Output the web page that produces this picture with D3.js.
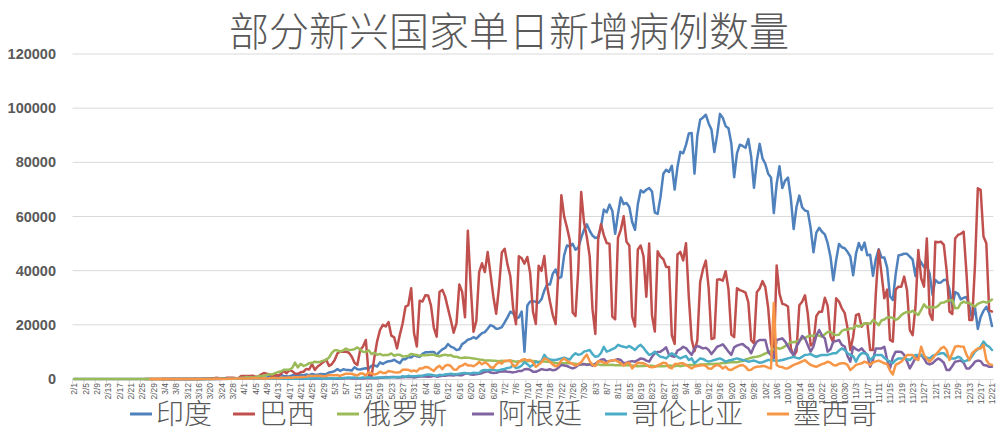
<!DOCTYPE html>
<html><head><meta charset="utf-8">
<script src="https://cdn.jsdelivr.net/npm/d3@7"></script>
<style>body{margin:0;background:#fff;}svg{display:block;}</style>
</head><body>
<svg id="chart" width="1000" height="442"></svg>
<script>
const title = "部分新兴国家单日新增病例数量";
const seriesNames = ["印度","巴西","俄罗斯","阿根廷","哥伦比亚","墨西哥"];
const seriesColors = ["#4F81BD","#C0504D","#9BBB59","#8064A2","#4BACC6","#F79646"];
const yTicks = [0,20000,40000,60000,80000,100000,120000];
const N = null;
function nulls(k){return Array(k).fill(null);}
function zeros(k){return Array(k).fill(0);}

// India
const india = [].concat(
  [0,1,1].concat(zeros(26)),
  [0,0,2,1,22,2,1,3,5,9,15,8,10,10,25,20,15,28,47,63,77,83,90,105,86,88,149,163,126,226,159],
  [601,545,478,589,569,704,508,485,591,896,768,918,905,1463,1118,1061,922,1371,1580,1239,1537,1292,1667,1408,1835,1607,1561,1873,1738,1801],
  [2396,2564,2952,3656,2971,3587,3364,3344,3113,4353,3607,3524,3763,3942,3787,4864,5050,4628,6147,5553,6198,6568,6629,7111,6414,5843,7293,7300,8105,7964,8800],
  [8392,8171,9304,9851,9887,9971,9983,8900,9985,10956,11458,12881,11929,11502,10667,10974,12881,13586,14516,14821,15413,14933,15968,16922,17296,18552,19906,19459,18522,18653],
  [19148,20903,22771,24850,24248,22252,22752,24879,10100,27114,28637,28701,28498,28178,29429,32695,34956,34884,38902,40425,37148,37724,45720,49310,48916,49931,47703,48513,52123,55078,57118],
  [54735,52972,52050,52509,56282,62538,61537,64399,62064,53601,60963,66999,64553,65002,63490,57981,55079,64531,69652,68898,69878,70488,69239,61408,60975,67151,75760,77266,76472,78761,69921],
  [78357,83883,83341,86432,90632,90802,75809,89706,95735,96551,97570,94372,92071,83809,90123,97894,96424,93337,92605,86961,74493,83347,86508,86052,85362,88600,82170,70589,80472,86821],
  [81484,79476,75829,74442,61267,72049,78524,70496,73272,74383,66732,55342,63509,67708,63371,62212,61871,55722,46790,54044,55839,54366,53370,50129,45148,36470,43893,49881,48648,48268,46964],
  [45231,38310,46253,50210,47638,50357,45674,45903,38074,44281,47905,44879,44878,41100,30548,29163,38617,45576,45882,46232,46232,45209,44059,37975,44376,43082,41322,41810,38772,31118],
  [36604,35551,35668,36594,36652,32981,26567,32080,31521,29398,30006,30254,27071,22065,26382,18500,22890,25152,26624,24337,19556]
);
// Brazil
const brazil = [].concat(
  nulls(25).concat([1,0,0,1]),
  [0,0,0,1,4,6,6,5,5,0,9,25,21,23,79,34,57,137,193,283,224,418,345,310,232,482,502,487,352,323,1138],
  [1119,1074,1146,1222,852,926,1661,2210,1930,1781,1089,1442,1261,1832,3058,2105,3257,2917,2055,1927,2498,2678,3735,3503,5514,3379,4613,5385,6276,7218],
  [4800,5500,7000,9500,10100,10100,10100,9700,8300,6000,5200,10700,12000,14400,1500,900,7900,14000,18100,20000,19400,21000,16000,15400,11300,16300,20600,26700,27300,33500,17000],
  [12000,28936,28633,30925,30830,27075,18912,15654,32091,32913,30412,25982,21704,17110,20647,34918,32188,22765,54771,34666,17459,21432,39436,42725,39483,46860,38693,30476,24052,33846],
  [46712,48105,42223,37923,26051,20229,45305,44571,42619,45048,39023,24831,20286,41857,39924,45403,34177,28532,23529,20257,41008,67860,59961,55891,51147,24578,23284,40816,69074,57837,52383],
  [45392,25800,16641,51603,57152,53139,50230,49970,23010,22048,52160,55155,60091,50644,49274,23101,19373,47784,49298,45323,30355,50032,23421,17504,47134,45173,44235,41350,41350,16158,12959],
  [45961,46934,43773,50163,30168,14521,10273,14279,35816,40557,43718,33523,14768,15155,36653,36820,36303,39797,33057,16389,15454,33536,32817,32445,31911,28378,14318,13155,32058,33413],
  [36157,33922,26310,13155,8456,41906,31553,27750,27444,26749,11416,8429,10220,27235,28523,30914,24062,12342,13345,23227,24818,24858,30026,26979,15726,13493,29787,28629,26106,24436,18947],
  [10700,15600,23600,24000,19300,20600,20600,10700,10700,31600,47600,39000,29800,33000,14400,13800,33000,34100,34100,37800,32900,18100,16200,26700,47600,37200,34100,51900,24200,21800],
  [50700,50500,50700,49500,40000,24900,24000,51900,53200,53600,54400,39000,21800,21800,42000,70400,69800,52600,50100,25500,24900]
);
// Russia
const russia = [].concat(
  zeros(29),
  [0,1,0,0,0,0,3,3,0,3,2,8,6,14,29,3,30,33,52,54,53,61,71,57,163,182,196,228,270,302,501],
  [440,771,601,582,658,954,1154,1175,1459,1786,1667,2186,2558,2774,3388,3448,3448,4070,6060,4268,5642,4774,5236,5849,5966,6361,6198,6411,6800,7099],
  [7933,9623,10633,10581,10102,10559,11231,10699,10817,11012,11656,10899,10028,9974,10598,9200,9709,8926,9263,8764,8849,8894,9434,8599,8946,8915,8338,8371,8572,9268,9035],
  [8863,8536,8831,8726,8855,8984,8985,8595,8404,8779,8987,8706,8835,8246,8248,7843,7790,7972,7889,7728,7600,7425,7176,7113,6800,6852,6791,6719,6693,6556],
  [6760,6556,6632,6736,6611,6368,6562,6509,6635,6632,6611,6615,6537,6248,6422,6428,6406,6234,6109,5940,5842,5862,5811,5848,5871,5765,5635,5475,5395,5509,5482],
  [5462,5427,5159,5394,5204,5212,5241,5189,5267,5118,5102,5065,5061,5057,5076,4969,4839,4748,4790,4828,4870,4921,4852,4696,4676,4711,4744,4829,4980,4897,4729],
  [4952,4729,4995,5110,5195,5205,5185,5099,5363,5363,5449,5406,5509,5529,5670,5762,5905,5935,6065,6148,6196,6215,6431,6595,7212,7523,7867,8135,8232,8481],
  [8945,9412,9859,10499,10888,11615,11115,11493,12126,12846,13634,13592,13868,14231,14922,15150,15700,15982,15982,16319,15971,15700,16521,17340,17347,16550,16202,16342,17717,18283,18140],
  [18665,18648,19768,19404,19768,20582,20498,20396,21798,20977,19851,21608,21983,22702,22778,22572,21798,22410,23610,24318,24822,24581,25173,24326,23675,25487,27543,26338,26683,26402],
  [26402,27000,28145,28209,28782,29039,29200,26097,26190,27927,28585,28137,28080,27328,26689,27750,28214,28552,28209,28600,29350]
);
// Argentina
const argentina = [].concat(
  nulls(29),
  [N,N,1,0,1,6,5,0,5,2,12,3,11,11,20,9,11,18,31,30,67,30,35,41,86,85,101,87,75,79,146],
  [105,120,100,130,110,104,98,113,96,133,146,96,115,91,160,152,101,81,101,91,80,96,113,73,171,111,172,124,158,160],
  [143,165,101,125,182,175,240,244,163,206,176,202,216,253,316,345,302,314,481,478,718,648,723,704,561,535,605,704,795,734,564],
  [737,949,904,929,840,907,1146,865,995,1162,1226,1386,1391,1282,1531,1374,1393,2000,2060,1634,1581,1795,1949,2146,2606,2886,2401,2189,2262,2667],
  [2744,2845,2667,2590,2439,2632,2979,2973,3604,3663,3449,2657,2677,3099,3645,3400,3300,3600,3200,3400,4200,5200,5000,4800,4300,3900,4300,5200,5400,5500,5200],
  [5400,4900,5600,6400,7100,7300,6400,6600,6800,7000,7300,7000,5800,6000,6400,6600,6400,7000,7600,7400,6800,6400,8200,9500,10000,10100,10800,11700,8900,8500,8200],
  [10500,11000,11900,11400,10100,8900,11300,12200,11800,11300,11500,10700,9200,10500,11900,12300,12800,11500,10100,8900,11700,12300,12700,12900,12000,11300,9500,12000,13800,14400],
  [14400,14400,10100,8800,7600,14400,14700,15000,13800,12000,10100,8900,12000,13800,15900,15000,12500,10100,12000,16000,18100,16000,15000,10100,11000,13800,14000,14400,12600,12000,8500],
  [6400,11900,11000,10500,11300,10000,8900,4500,7000,11300,11300,11300,11900,7000,3900,8000,10100,10100,10000,8900,6500,3900,5800,7800,8200,8900,7600,5800,5400,5800],
  [6800,7600,7000,6000,3300,3300,4800,6400,6600,6800,6000,3900,3900,5000,6400,6800,6600,5200,5000,4500,4500]
);
// Colombia
const colombia = [].concat(
  nulls(29),
  nulls(5).concat([1,0,0,2,0,6,0,7,6,30,11,12,37,26,15,46,39,75,92,66,21,51,48,94,96,108]),
  [96,204,154,80,117,76,60,274,69,127,103,76,119,74,98,85,126,149,134,129,141,203,76,133,262,244,179,213,229,195],
  [209,251,213,259,280,360,482,520,426,595,407,377,566,591,640,492,489,538,596,525,589,576,637,627,719,699,1047,845,1167,1049,1054],
  [1074,1183,1205,1515,1650,1531,1350,1210,1530,1366,1651,1800,1953,1772,1749,1925,2115,2264,2069,2003,2279,2219,2232,3171,3314,3260,3436,3403,3178,3274],
  [3500,3700,4100,4200,5200,4000,4300,5000,6200,5500,4500,5200,6400,6000,6600,8900,7600,7200,7000,7000,7300,7600,7900,7500,7200,8600,9500,8900,9200,10100,10400],
  [10700,9200,8200,8400,9600,11900,10100,10500,11000,11500,12600,12200,11900,11600,12200,11500,10700,11900,12600,11500,10100,8900,9300,10100,9000,8200,8000,7600,8600,9500,8900],
  [8200,7600,8100,8500,7000,7600,5800,6700,7600,7400,6800,6400,6700,7000,7300,7600,7100,6400,6800,7000,7300,7600,7300,7000,6800,6400,6600,6800,6400,6000],
  [6200,6600,7000,7000,6800,6700,6800,7000,7300,7600,7900,8200,7800,7600,8200,8900,9000,9200,8600,8200,8600,8900,8900,8900,9200,9500,9500,10500,11300,10700,9500],
  [8900,8400,6400,8500,9500,9500,9000,7000,8000,8900,8900,8900,7800,7000,6400,5800,7000,7600,7600,7600,7300,7000,8000,8900,8900,8900,8200,7900,7600,8500],
  [8900,9200,9500,9500,8500,7600,7600,7600,8200,7800,6400,6800,7000,8500,10100,11000,11900,13800,12500,11900,10700]
);
// Mexico
const mexico = [].concat(
  nulls(27).concat([1,1]),
  [0,0,1,0,0,0,0,0,0,0,4,1,8,14,15,29,11,25,46,46,38,65,51,49,38,71,110,131,144,145,170],
  [157,171,193,253,296,239,195,253,217,301,347,406,259,375,473,451,554,478,612,618,764,729,873,1233,1082,1132,1234,1224,1043,1093],
  [1515,1425,1349,1434,1120,1609,1982,1906,1938,1562,1305,1997,1992,1305,2409,2112,1632,1937,2713,2248,2196,2960,2713,2483,2414,2485,3455,3463,3377,2885,3152],
  [2771,3891,3912,4442,4346,3593,2999,4199,4883,3629,4883,5222,4790,3494,3427,4599,4930,5662,5030,5030,4717,5343,6288,5441,6104,5546,4410,4050,5432,6258],
  [5681,6741,6740,6914,4683,4902,6258,6995,7280,6891,7047,6094,4482,5311,6148,7615,7257,6406,5311,4685,5172,6859,7573,6751,6094,5480,4973,5475,6148,7730,9000],
  [6600,5200,4800,6600,6500,6000,5800,6700,6800,7000,6400,5800,5000,5800,6000,3900,5000,6000,5900,5800,5300,4500,4300,4500,5000,5500,6000,5800,4300,3900,5500],
  [5500,5800,5800,5200,4500,3900,4600,4800,5000,5200,4800,3900,3800,4800,5200,4800,3900,4600,3500,3300,4000,4500,5000,5200,4500,3300,3400,4200,4500,4600],
  [4800,4700,4200,3900,28100,5200,4500,4400,3900,4000,4600,5200,5600,6000,6500,7000,6000,5200,4800,4500,5000,5500,5800,6400,6000,5200,5000,5600,5800,5800,5200],
  [3300,4200,5200,5500,5800,6400,6000,5200,6100,6500,6800,6300,5800,5500,3100,1700,5200,5800,6400,7500,8900,8900,8900,7500,7000,11900,8900,7500,6400,7500],
  [8900,10000,11300,11900,10700,7000,9500,11900,12200,12000,11900,9000,7000,9500,10500,11300,11300,12600,7000,5500,5200]
);
const seriesValues = [india, brazil, russia, argentina, colombia, mexico];

// dates 2020-02-01 .. 2020-12-21
const monthLens = [29,31,30,31,30,31,31,30,31,30,21];
const dates = [];
monthLens.forEach((len,mi)=>{for(let d=1;d<=len;d++) dates.push((mi+2)+"/"+d);});
seriesValues.forEach((s,i)=>{ if(s.length!==dates.length) throw new Error(seriesNames[i]+" length "+s.length+" vs "+dates.length); });

const svg = d3.select("#chart");
svg.append("rect").attr("width",1000).attr("height",442).attr("fill","#fff");

const x = d3.scalePoint().domain(d3.range(dates.length)).range([72.6, 993.4]).padding(0.5);
const step = x.step();
const y = d3.scaleLinear().domain([0,120000]).range([379, 54]);

// gridlines
svg.append("g").selectAll("line").data(yTicks.slice(1)).join("line")
  .attr("x1",72.6).attr("x2",993.4)
  .attr("y1",d=>y(d)).attr("y2",d=>y(d))
  .attr("stroke","#d9d9d9").attr("stroke-width",1);

// y axis labels
const yAxis = d3.axisLeft(y).tickValues(yTicks).tickSize(0).tickPadding(0).tickFormat(d=>String(d));
const yg = svg.append("g").attr("transform","translate(56,0)").call(yAxis);
yg.select(".domain").remove();
yg.selectAll("text").attr("font-family","'Liberation Sans', Arial, sans-serif").attr("font-weight","bold")
  .attr("font-size","14.5px").attr("fill","#595959");

// x axis
const xAxis = d3.axisBottom(x).tickValues(d3.range(0,dates.length,4)).tickSize(0).tickFormat(i=>dates[i]);
const xg = svg.append("g").attr("transform","translate(0,379)").call(xAxis);
xg.select(".domain").attr("stroke","#d9d9d9");
xg.selectAll("text").attr("font-family","'Liberation Sans Narrow','Liberation Sans', Arial, sans-serif").attr("font-size","8.5px")
  .attr("fill","#595959").attr("text-anchor","end").attr("dy","0.32em")
  .attr("transform","translate(0,4) rotate(-90)").attr("x",0).attr("y",0);
// tick marks between categories every 4
svg.append("g").selectAll("line").data(d3.range(0,dates.length+1,4)).join("line")
  .attr("x1",i=>x(0)-step/2+i*step).attr("x2",i=>x(0)-step/2+i*step)
  .attr("y1",379).attr("y2",384).attr("stroke","#d9d9d9");

// lines
const line = d3.line().defined(d=>d!==null).x((d,i)=>x(i)).y(d=>y(d)).curve(d3.curveLinear);
seriesValues.forEach((s,i)=>{
  svg.append("path").datum(s).attr("d",line).attr("fill","none")
    .attr("stroke",seriesColors[i]).attr("stroke-width",2.5).attr("stroke-linejoin","round").attr("stroke-linecap","round");
});

// title
svg.append("text").attr("x",509).attr("y",46).attr("text-anchor","middle")
  .attr("font-family","'Noto Sans CJK SC', sans-serif").attr("font-weight","300").attr("font-size","40px").attr("fill","#595959")
  .text(title);

// legend
const legendX = [130, 233, 337, 472, 605, 767];
const lg = svg.append("g");
seriesNames.forEach((n,i)=>{
  lg.append("line").attr("x1",legendX[i]).attr("x2",legendX[i]+22).attr("y1",414).attr("y2",414)
    .attr("stroke",seriesColors[i]).attr("stroke-width",3);
  lg.append("text").attr("x",legendX[i]+26).attr("y",424)
    .attr("font-family","'Noto Sans CJK SC', sans-serif").attr("font-weight","300").attr("font-size","28px").attr("fill","#595959").text(n);
});
</script>
</body></html>
